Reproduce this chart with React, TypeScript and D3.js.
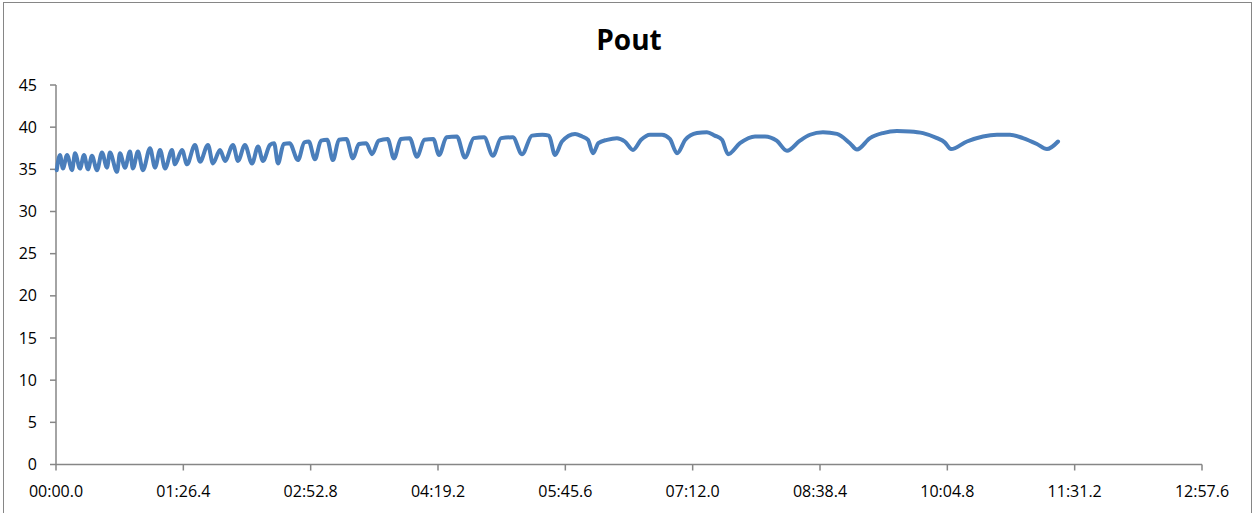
import React from "react";
import * as d3 from "d3";

// time in seconds, value
const times: number[] = [
  0.5, 2.7, 4.7, 7.5, 10.9, 12.9, 16.3, 19.0, 21.7, 24.4, 27.8, 31.2, 34.6, 36.6, 41.4, 43.4, 46.8, 50.2,
  52.2, 55.6, 59.0, 63.8, 67.2, 70.6, 74.0, 78.7, 80.7, 85.5, 88.9, 94.3, 97.7, 103.1, 106.5, 111.3,
  114.7, 120.1, 123.5, 128.2, 133.0, 137.1, 140.4,
  145.2, 148.0, 150.6, 154.5, 158.5, 164.2, 168.5, 171.5, 175.7, 179.8, 184.0, 187.9, 192.0, 197.0,
  201.5, 205.5, 210.5, 214.4, 219.0, 225.0, 229.3, 234.0, 240.0, 244.9, 250.0, 256.0, 259.9, 265.0,
  272.0, 277.5, 283.5, 290.5, 296.5, 302.0, 310.0, 316.2, 323.0, 330.0, 334.5, 338.6,
  343.3, 352.2, 357.0, 361.0, 364.4, 368.0, 373.9, 380.6, 386.0, 391.5, 397.0, 403.0, 411.2, 416.5,
  421.4, 427.0, 434.9, 441.7, 447.0, 451.9, 456.0, 464.1, 474.3, 481.1, 489.0, 496.0, 504.8,
  511.6, 520.4, 529.9, 538.7, 543.5, 552.3, 561.1, 570.6, 579.4, 588.3, 597.8, 603.0, 607.3, 618.1,
  629.0, 638.5, 647.3, 656.1, 665.6, 672.4, 679.9,
];
const values: number[] = [
  34.9, 36.7, 35.1, 36.7, 34.9, 36.9, 35.1, 36.7, 35.0, 36.6, 34.9, 37.0, 35.2, 37.0, 34.7, 36.9, 35.2, 37.1,
  35.1, 37.1, 34.9, 37.5, 35.2, 37.3, 35.1, 37.3, 35.6, 37.3, 35.6, 37.9, 35.9, 37.9, 35.7, 37.3,
  36.0, 37.9, 36.0, 37.9, 35.7, 37.7, 36.0,
  37.9, 38.1, 35.7, 38.0, 38.1, 36.1, 38.2, 38.3, 36.2, 38.4, 38.5, 36.1, 38.5, 38.6,
  36.3, 38.0, 38.1, 36.8, 38.4, 38.6, 36.3, 38.6, 38.7, 36.5, 38.5, 38.6, 36.7, 38.8,
  38.9, 36.4, 38.7, 38.8, 36.6, 38.7, 38.8, 36.8, 39.0, 39.1, 39.0, 36.7,
  38.3, 39.2, 38.9, 38.5, 36.9, 38.1, 38.5, 38.7, 38.3, 37.3, 38.5, 39.1, 39.1, 38.6,
  36.9, 38.5, 39.3, 39.4, 39.0, 38.5, 36.8, 38.1, 38.9, 38.9, 38.4, 37.2, 38.4,
  39.1, 39.4, 39.2, 38.1, 37.35, 38.7, 39.3, 39.55, 39.5, 39.3, 38.7, 38.2, 37.4, 38.3,
  38.9, 39.1, 39.1, 38.7, 38.0, 37.4, 38.3,
];

const xTicks: number[] = [0, 86.4, 172.8, 259.2, 345.6, 432.0, 518.4, 604.8, 691.2, 777.6];
const yTicks: number[] = [0, 5, 10, 15, 20, 25, 30, 35, 40, 45];
const title = "Pout";

const W = 1254;
const H = 513;
const FONT = "'Open Sans', 'Noto Sans', sans-serif";
const AXIS = "#868686";

function fmtTime(s: number): string {
  const m = Math.floor(s / 60 + 1e-9);
  const sec = s - m * 60;
  const mm = String(m).padStart(2, "0");
  const ss = sec.toFixed(1).padStart(4, "0");
  return `${mm}:${ss}`;
}

export default function App() {
  const x = d3.scaleLinear().domain([0, 777.6]).range([56, 1202]);
  const y = d3.scaleLinear().domain([0, 45]).range([464.5, 85]);
  const data = times.map((t, i) => [t, values[i]] as [number, number]);
  const line = d3
    .line<[number, number]>()
    .x((d) => x(d[0]))
    .y((d) => y(d[1]))
    .curve(d3.curveMonotoneX);

  return (
    <svg
      width={W}
      height={H}
      style={{ position: "absolute", left: 0, top: 0, background: "#fff" }}
      fontFamily={FONT}
    >
      <rect x={3.5} y={2.5} width={1248} height={520} fill="#fff" stroke={AXIS} strokeWidth={1} />
      <text x={629} y={50} textAnchor="middle" fontSize={28} fontWeight="bold" fill="#000">
        {title}
      </text>
      {/* y axis */}
      <line x1={56} x2={56} y1={y(45)} y2={y(0)} stroke={AXIS} strokeWidth={1.5} />
      {yTicks.map((t) => (
        <g key={t}>
          <line x1={50} x2={56} y1={y(t)} y2={y(t)} stroke={AXIS} strokeWidth={1.5} />
          <text x={37} y={y(t)} dy="0.35em" textAnchor="end" fontSize={16} fill="#000">
            {t}
          </text>
        </g>
      ))}
      {/* x axis */}
      <line x1={56} x2={1202} y1={y(0)} y2={y(0)} stroke={AXIS} strokeWidth={1.5} />
      {xTicks.map((t) => (
        <g key={t}>
          <line x1={x(t)} x2={x(t)} y1={y(0)} y2={y(0) + 6} stroke={AXIS} strokeWidth={1.5} />
          <text x={x(t)} y={497} textAnchor="middle" fontSize={16} fill="#000">
            {fmtTime(t)}
          </text>
        </g>
      ))}
      <path
        d={line(data) || ""}
        fill="none"
        stroke="#4a7ebb"
        strokeWidth={4}
        strokeLinejoin="round"
        strokeLinecap="round"
      />
    </svg>
  );
}
